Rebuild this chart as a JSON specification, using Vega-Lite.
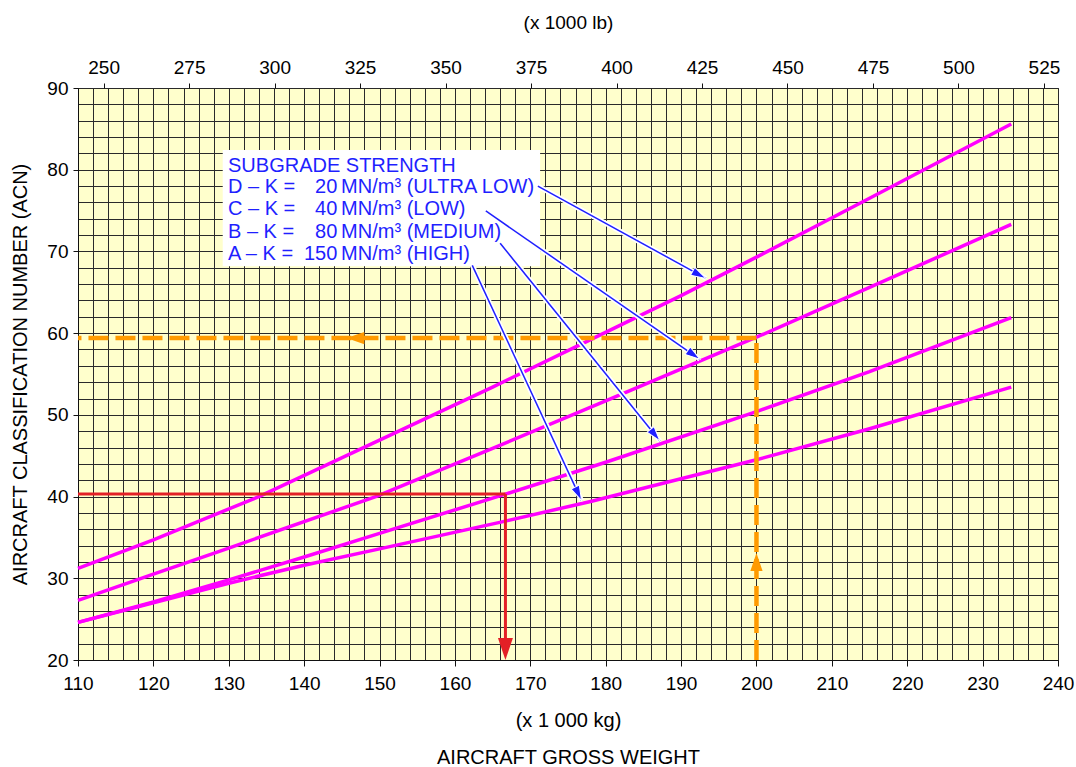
{
  "$schema": "https://vega.github.io/schema/vega-lite/v6.json",
  "width": 980,
  "height": 572,
  "autosize": "none",
  "padding": {"left": 78, "top": 88, "right": 18, "bottom": 107},
  "background": "white",
  "config": {
    "font": "Liberation Sans",
    "view": {"fill": "#FFFFCC", "stroke": "#222222", "strokeWidth": 1},
    "axis": {"labelFont": "Liberation Sans", "titleFont": "Liberation Sans", "labelColor": "black", "titleColor": "black", "titleFontWeight": "normal", "domainColor": "#111", "tickColor": "#111"}
  },
  "datasets": {
    "curves": [
      {"curve": "D", "x": 110, "y": 31.2}, {"curve": "D", "x": 120, "y": 34.7}, {"curve": "D", "x": 134, "y": 40.0}, {"curve": "D", "x": 150, "y": 46.9}, {"curve": "D", "x": 165, "y": 53.4}, {"curve": "D", "x": 178, "y": 59.2}, {"curve": "D", "x": 190, "y": 64.6}, {"curve": "D", "x": 200, "y": 69.3}, {"curve": "D", "x": 215, "y": 76.5}, {"curve": "D", "x": 233.8, "y": 85.6},
      {"curve": "C", "x": 110, "y": 27.3}, {"curve": "C", "x": 120, "y": 30.5}, {"curve": "C", "x": 130, "y": 33.7}, {"curve": "C", "x": 149.5, "y": 40.0}, {"curve": "C", "x": 165, "y": 45.9}, {"curve": "C", "x": 180, "y": 51.7}, {"curve": "C", "x": 200, "y": 59.5}, {"curve": "C", "x": 215, "y": 65.6}, {"curve": "C", "x": 233.8, "y": 73.3},
      {"curve": "B", "x": 110, "y": 24.6}, {"curve": "B", "x": 120, "y": 27.1}, {"curve": "B", "x": 130, "y": 29.8}, {"curve": "B", "x": 140, "y": 32.6}, {"curve": "B", "x": 150, "y": 35.5}, {"curve": "B", "x": 166.7, "y": 40.3}, {"curve": "B", "x": 180, "y": 44.2}, {"curve": "B", "x": 200, "y": 50.4}, {"curve": "B", "x": 215, "y": 55.3}, {"curve": "B", "x": 233.8, "y": 61.9},
      {"curve": "A", "x": 110, "y": 24.6}, {"curve": "A", "x": 120, "y": 27.0}, {"curve": "A", "x": 130, "y": 29.4}, {"curve": "A", "x": 140, "y": 31.6}, {"curve": "A", "x": 150, "y": 33.6}, {"curve": "A", "x": 166.7, "y": 37.0}, {"curve": "A", "x": 178, "y": 39.4}, {"curve": "A", "x": 200, "y": 44.5}, {"curve": "A", "x": 215, "y": 48.3}, {"curve": "A", "x": 233.8, "y": 53.4}
    ],
    "box": [{"x": 129.2, "x2": 171.3, "y": 82.4, "y2": 68.2}],
    "labels": [
      {"part": "l", "x": 129.9, "y": 79.7, "t": "SUBGRADE STRENGTH"},
      {"part": "l", "x": 129.9, "y": 77.15, "t": "D – K ="},
      {"part": "l", "x": 129.9, "y": 74.46, "t": "C – K ="},
      {"part": "l", "x": 129.9, "y": 71.65, "t": "B – K ="},
      {"part": "l", "x": 129.9, "y": 68.95, "t": "A – K ="},
      {"part": "n", "x": 144.4, "y": 77.15, "t": "20"},
      {"part": "n", "x": 144.4, "y": 74.46, "t": "40"},
      {"part": "n", "x": 144.4, "y": 71.65, "t": "80"},
      {"part": "n", "x": 144.4, "y": 68.95, "t": "150"},
      {"part": "u", "x": 144.9, "y": 77.15, "t": "MN/m³ (ULTRA LOW)"},
      {"part": "u", "x": 144.9, "y": 74.46, "t": "MN/m³ (LOW)"},
      {"part": "u", "x": 144.9, "y": 71.65, "t": "MN/m³ (MEDIUM)"},
      {"part": "u", "x": 144.9, "y": 68.95, "t": "MN/m³ (HIGH)"}
    ],
    "blue": [
      {"id": "D", "x": 171.0, "y": 78.0, "x2": 193.3, "y2": 66.7},
      {"id": "C", "x": 164.1, "y": 74.95, "x2": 192.5, "y2": 56.8},
      {"id": "B", "x": 166.0, "y": 71.0, "x2": 187.2, "y2": 46.8},
      {"id": "A", "x": 162.3, "y": 68.3, "x2": 176.8, "y2": 39.5}
    ],
    "red": [
      {"x": 110, "y": 40.3, "x2": 166.7, "y2": 40.3},
      {"x": 166.7, "y": 40.3, "x2": 166.7, "y2": 21.5}
    ],
    "redhead": [{"x": 166.7, "y": 20.0}],
    "orange": [
      {"x": 200, "y": 20, "x2": 200, "y2": 59.4},
      {"x": 200, "y": 59.4, "x2": 110, "y2": 59.4}
    ],
    "orangeup": [{"x": 200, "y": 33.1}],
    "orangeleft": [{"x": 145.6, "y": 59.4}],
    "lbticks": [{"lb": 250}, {"lb": 275}, {"lb": 300}, {"lb": 325}, {"lb": 350}, {"lb": 375}, {"lb": 400}, {"lb": 425}, {"lb": 450}, {"lb": 475}, {"lb": 500}, {"lb": 525}]
  },
  "layer": [
    {
      "encoding": {
        "x": {
          "field": "x", "type": "quantitative",
          "scale": {"domain": [110, 240], "nice": false, "zero": false},
          "axis": {
            "values": [110,112,114,116,118,120,122,124,126,128,130,132,134,136,138,140,142,144,146,148,150,152,154,156,158,160,162,164,166,168,170,172,174,176,178,180,182,184,186,188,190,192,194,196,198,200,202,204,206,208,210,212,214,216,218,220,222,224,226,228,230,232,234,236,238,240],
            "labelExpr": "datum.value % 10 === 0 ? datum.label : ''",
            "tickOpacity": {"condition": {"test": "datum.value % 10 === 0", "value": 1}, "value": 0},
            "tickSize": 6,
            "labelFontSize": 19,
            "labelPadding": 8,
            "labelFlush": false,
            "labelOverlap": false,
            "grid": true,
            "gridColor": "#2a2a2a",
            "gridWidth": 1,
            "gridOpacity": 1,
            "title": ["(x 1 000 kg)", "AIRCRAFT GROSS WEIGHT"],
            "titleFontSize": 20,
            "titleLineHeight": 37,
            "titlePadding": 17
          }
        },
        "y": {
          "field": "y", "type": "quantitative",
          "scale": {"domain": [20, 90], "nice": false, "zero": false},
          "axis": {
            "values": [20,22,24,26,28,30,32,34,36,38,40,42,44,46,48,50,52,54,56,58,60,62,64,66,68,70,72,74,76,78,80,82,84,86,88,90],
            "labelExpr": "datum.value % 10 === 0 ? datum.label : ''",
            "tickOpacity": {"condition": {"test": "datum.value % 10 === 0", "value": 1}, "value": 0},
            "tickSize": 5,
            "labelFontSize": 19,
            "labelPadding": 5,
            "labelOverlap": false,
            "labelFlush": false,
            "grid": true,
            "gridColor": "#2a2a2a",
            "gridWidth": 1,
            "gridOpacity": 1,
            "title": "AIRCRAFT CLASSIFICATION NUMBER (ACN)",
            "titleFontSize": 20,
            "titlePadding": 16
          }
        }
      },
      "layer": [
        {
          "data": {"name": "curves"},
          "mark": {"type": "line", "color": "#FF00FF", "strokeWidth": 3.5},
          "encoding": {"detail": {"field": "curve"}}
        },
        {
          "data": {"name": "red"},
          "mark": {"type": "rule", "color": "#E32026", "strokeWidth": 3},
          "encoding": {"x2": {"field": "x2"}, "y2": {"field": "y2"}}
        },
        {
          "data": {"name": "redhead"},
          "mark": {"type": "point", "shape": "M0,0 L-2,-0.68 L-2,0.68 Z", "filled": true, "color": "#E32026", "opacity": 1, "size": 484, "angle": 90}
        },
        {
          "data": {"name": "orange"},
          "mark": {"type": "rule", "color": "#FF9A00", "strokeWidth": 4.5, "strokeDash": [20, 7]},
          "encoding": {"x2": {"field": "x2"}, "y2": {"field": "y2"}}
        },
        {
          "data": {"name": "orangeup"},
          "mark": {"type": "point", "shape": "M0,0 L-2,-0.68 L-2,0.68 Z", "filled": true, "color": "#FF9A00", "opacity": 1, "size": 324, "angle": -90}
        },
        {
          "data": {"name": "orangeleft"},
          "mark": {"type": "point", "shape": "M0,0 L-2,-0.68 L-2,0.68 Z", "filled": true, "color": "#FF9A00", "opacity": 1, "size": 324, "angle": 180}
        },
        {
          "data": {"name": "box"},
          "mark": {"type": "rect", "color": "white", "opacity": 1},
          "encoding": {"x2": {"field": "x2"}, "y2": {"field": "y2"}}
        },
        {
          "data": {"name": "labels"},
          "transform": [{"filter": "datum.part === 'l'"}],
          "mark": {"type": "text", "align": "left", "baseline": "alphabetic", "fontSize": 20, "color": "#1F1FFF", "font": "Liberation Sans"},
          "encoding": {"text": {"field": "t"}}
        },
        {
          "data": {"name": "labels"},
          "transform": [{"filter": "datum.part === 'n'"}],
          "mark": {"type": "text", "align": "right", "baseline": "alphabetic", "fontSize": 20, "color": "#1F1FFF", "font": "Liberation Sans"},
          "encoding": {"text": {"field": "t"}}
        },
        {
          "data": {"name": "labels"},
          "transform": [{"filter": "datum.part === 'u'"}],
          "mark": {"type": "text", "align": "left", "baseline": "alphabetic", "fontSize": 20, "color": "#1F1FFF", "font": "Liberation Sans"},
          "encoding": {"text": {"field": "t"}}
        },
        {
          "data": {"name": "blue"},
          "mark": {"type": "rule", "color": "white", "strokeWidth": 5},
          "encoding": {"x2": {"field": "x2"}, "y2": {"field": "y2"}}
        },
        {
          "data": {"name": "blue"},
          "mark": {"type": "rule", "color": "#1F1FFF", "strokeWidth": 1.5},
          "encoding": {"x2": {"field": "x2"}, "y2": {"field": "y2"}}
        },
        {
          "data": {"name": "blue"},
          "transform": [{"filter": "datum.id === 'D'"}],
          "mark": {"type": "point", "shape": "M0,0 L-2,-0.6 L-2,0.6 Z", "filled": true, "color": "#1F1FFF", "opacity": 1, "size": 225, "angle": 28, "stroke": "white", "strokeWidth": 1},
          "encoding": {"x": {"field": "x2", "type": "quantitative"}, "y": {"field": "y2", "type": "quantitative"}}
        },
        {
          "data": {"name": "blue"},
          "transform": [{"filter": "datum.id === 'C'"}],
          "mark": {"type": "point", "shape": "M0,0 L-2,-0.6 L-2,0.6 Z", "filled": true, "color": "#1F1FFF", "opacity": 1, "size": 225, "angle": 35, "stroke": "white", "strokeWidth": 1},
          "encoding": {"x": {"field": "x2", "type": "quantitative"}, "y": {"field": "y2", "type": "quantitative"}}
        },
        {
          "data": {"name": "blue"},
          "transform": [{"filter": "datum.id === 'B'"}],
          "mark": {"type": "point", "shape": "M0,0 L-2,-0.6 L-2,0.6 Z", "filled": true, "color": "#1F1FFF", "opacity": 1, "size": 225, "angle": 51, "stroke": "white", "strokeWidth": 1},
          "encoding": {"x": {"field": "x2", "type": "quantitative"}, "y": {"field": "y2", "type": "quantitative"}}
        },
        {
          "data": {"name": "blue"},
          "transform": [{"filter": "datum.id === 'A'"}],
          "mark": {"type": "point", "shape": "M0,0 L-2,-0.6 L-2,0.6 Z", "filled": true, "color": "#1F1FFF", "opacity": 1, "size": 225, "angle": 65, "stroke": "white", "strokeWidth": 1},
          "encoding": {"x": {"field": "x2", "type": "quantitative"}, "y": {"field": "y2", "type": "quantitative"}}
        }
      ]
    },
    {
      "data": {"name": "lbticks"},
      "mark": {"type": "point", "opacity": 0},
      "encoding": {
        "x": {
          "field": "lb", "type": "quantitative",
          "scale": {"domain": [242.508, 529.109], "nice": false, "zero": false},
          "axis": {
            "orient": "top",
            "values": [250, 275, 300, 325, 350, 375, 400, 425, 450, 475, 500, 525],
            "grid": false,
            "tickSize": 5,
            "labelFontSize": 19,
            "labelPadding": 6,
            "labelFlush": false,
            "labelOverlap": false,
            "domain": false,
            "title": "(x 1000 lb)",
            "titleFontSize": 19,
            "titlePadding": 26
          }
        }
      }
    }
  ],
  "resolve": {"scale": {"x": "independent"}}
}
